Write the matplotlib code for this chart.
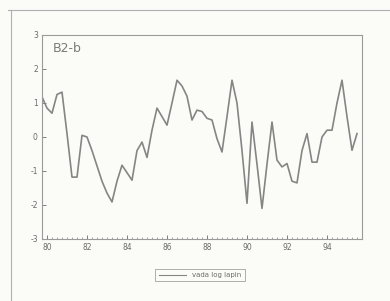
import matplotlib
matplotlib.use("Agg")
import matplotlib.pyplot as plt
from matplotlib.lines import Line2D
import numpy as np

# quarterly observations 1980Q1 .. 1995Q4
values = [1.18, 0.85, 0.70, 1.25, 1.32, 0.10, -1.18, -1.18,
          0.05, 0.00, -0.40, -0.85, -1.30, -1.65, -1.91, -1.30,
          -0.83, -1.05, -1.27, -0.40, -0.15, -0.60, 0.20, 0.85,
          0.60, 0.35, 1.00, 1.67, 1.50, 1.20, 0.50, 0.79,
          0.75, 0.55, 0.50, -0.05, -0.44, 0.60, 1.67, 1.00,
          -0.40, -1.95, 0.44, -0.80, -2.10, -0.80, 0.44, -0.68,
          -0.88, -0.78, -1.30, -1.35, -0.40, 0.10, -0.74, -0.74,
          0.00, 0.20, 0.20, 1.00, 1.67, 0.60, -0.39, 0.10]
xtick_labels = ["80", "82", "84", "86", "88", "90", "92", "94"]
yticks = [-3, -2, -1, 0, 1, 2, 3]
panel_label = "B2-b"
legend_label = "vada log lapin"

bg = "#fbfbf8"
ink = "#858585"
txt = "#6a6a6a"

fig = plt.figure(figsize=(3.9, 3.01), dpi=100, facecolor=bg)
ax = fig.add_axes([42/390, 1-239/301, 320/390, 204/301])
ax.set_facecolor(bg)

x = np.arange(len(values))
ax.plot(x, values, color=ink, lw=1.2)

ax.set_xlim(0, 64)
ax.set_ylim(-3, 3)
ax.set_yticks(yticks)
ax.set_yticklabels([str(v) for v in yticks])
ax.set_xticks(np.arange(0, 64, 8) + 1)
ax.set_xticklabels(xtick_labels)
ax.set_xticks(np.arange(0, 65, 1), minor=True)
ax.tick_params(axis="both", which="major", labelsize=5.5, colors=txt,
               direction="in", length=3, width=0.6, pad=3)
ax.tick_params(axis="x", which="minor", direction="in", length=1.5,
               width=0.5, colors=ink)
for s in ax.spines.values():
    s.set_color("#9a9a9a")
    s.set_linewidth(0.8)

ax.text(0.035, 0.965, panel_label, transform=ax.transAxes, ha="left",
        va="top", fontsize=9, color="#7a7a7a")

handle = Line2D([], [], color=ink, lw=0.8)
leg = fig.legend([handle], [legend_label], loc="center",
                 bbox_to_anchor=(200/390, 1-275/301), fontsize=5,
                 frameon=True, fancybox=False, handlelength=4,
                 borderpad=0.5, labelcolor=txt)
leg.get_frame().set_edgecolor("#9a9a9a")
leg.get_frame().set_facecolor(bg)
leg.get_frame().set_linewidth(0.7)

# outer frame lines (top and left)
fig.add_artist(Line2D([8/390, 1.0], [1-10/301, 1-10/301], color="#b0b0b0",
                      lw=0.8, transform=fig.transFigure))
fig.add_artist(Line2D([11/390, 11/390], [0.0, 1-10/301], color="#b0b0b0",
                      lw=0.8, transform=fig.transFigure))

fig.savefig("out.png", dpi=100, facecolor=bg)
